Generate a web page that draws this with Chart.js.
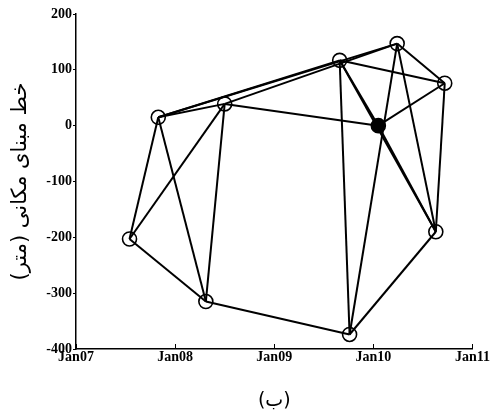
<!DOCTYPE html>
<html>
<head>
<meta charset="utf-8">
<script src="https://cdn.jsdelivr.net/npm/chart.js@4/dist/chart.umd.min.js"></script>
<style>
  html, body { margin: 0; padding: 0; background: #fff; }
  #wrap { width: 490px; height: 412px; }
</style>
</head>
<body>
<div id="wrap"><canvas id="grafik" width="490" height="412"></canvas></div>
<script>
// acquisition dates (decimal years) and spatial baselines (m)
const tanggal = [2007.83, 2007.54, 2008.50, 2008.31, 2009.66, 2009.76, 2010.05, 2010.24, 2010.72, 2010.63];
const baseline = [15, -203, 39, -315, 117, -374, 0, 147, 76, -190];
const masterIdx = 6;
// interferometric pairs (index into arrays above)
const pasangan = [
  [0, 2], [0, 4], [0, 7], [2, 7], [0, 1], [0, 3], [2, 1], [2, 3],
  [1, 3], [3, 5], [2, 6], [4, 5], [4, 6], [4, 8], [4, 9], [6, 9],
  [5, 7], [7, 9], [7, 8], [8, 6], [8, 9], [5, 9]
];
const xTicks = [2007, 2008, 2009, 2010, 2011];
const xTickLabels = ['Jan07', 'Jan08', 'Jan09', 'Jan10', 'Jan11'];
const yTicks = [-400, -300, -200, -100, 0, 100, 200];

const datasets = [];
pasangan.forEach(p => {
  datasets.push({
    data: [
      { x: tanggal[p[0]], y: baseline[p[0]] },
      { x: tanggal[p[1]], y: baseline[p[1]] }
    ],
    showLine: true,
    borderColor: '#000',
    borderWidth: 2,
    pointRadius: 0
  });
});
datasets.push({
  data: tanggal.map((t, i) => ({ x: t, y: baseline[i] })),
  pointRadius: 7,
  pointBorderWidth: 1.6,
  pointBorderColor: '#000',
  pointBackgroundColor: tanggal.map((t, i) => i === masterIdx ? '#000' : 'rgba(0,0,0,0)')
});

// short tick marks pointing into the plot on the x axis
const tickDalam = {
  id: 'tickDalam',
  afterDraw(chart) {
    const ctx = chart.ctx;
    const sx = chart.scales.x;
    const bottom = chart.chartArea.bottom;
    ctx.save();
    ctx.strokeStyle = '#000';
    ctx.lineWidth = 1;
    xTicks.forEach(v => {
      const px = Math.round(sx.getPixelForValue(v)) + 0.5;
      ctx.beginPath();
      ctx.moveTo(px, bottom);
      ctx.lineTo(px, bottom - 5);
      ctx.stroke();
    });
    ctx.restore();
  }
};

const serif = { family: "'Liberation Serif', 'DejaVu Serif', serif", size: 14, weight: 'bold' };

new Chart(document.getElementById('grafik'), {
  type: 'scatter',
  data: { datasets: datasets },
  options: {
    responsive: false,
    animation: false,
    layout: { padding: { left: 0, right: 15, top: 14, bottom: 0 } },
    plugins: { legend: { display: false }, tooltip: { enabled: false } },
    scales: {
      x: {
        type: 'linear',
        min: 2007, max: 2011,
        afterBuildTicks: s => { s.ticks = xTicks.map(v => ({ value: v })); },
        afterFit: s => { s.height = 63; },
        ticks: {
          color: '#000', font: serif, padding: 0, maxRotation: 0,
          callback: v => xTickLabels[xTicks.indexOf(v)]
        },
        grid: { display: false, drawOnChartArea: false, tickLength: 0 },
        border: { display: true, color: '#000', width: 1.5 },
        title: {
          display: true, text: '(ب)', color: '#000',
          font: { family: "'DejaVu Sans', sans-serif", size: 19 },
          padding: { top: 18, bottom: 0 }
        }
      },
      y: {
        min: -400, max: 200,
        afterBuildTicks: s => { s.ticks = yTicks.map(v => ({ value: v })); },
        afterFit: s => { s.width = 76; },
        ticks: { color: '#000', font: serif, padding: 1 },
        grid: { drawOnChartArea: false, tickLength: 3, color: '#000' },
        border: { display: true, color: '#000', width: 1.5 },
        title: {
          display: true, text: 'خط مبنای مکانی (متر)', color: '#000',
          font: { family: "'DejaVu Sans', sans-serif", size: 21 },
          padding: { top: 8, bottom: 0 }
        }
      }
    }
  },
  plugins: [tickDalam]
});
</script>
</body>
</html>
